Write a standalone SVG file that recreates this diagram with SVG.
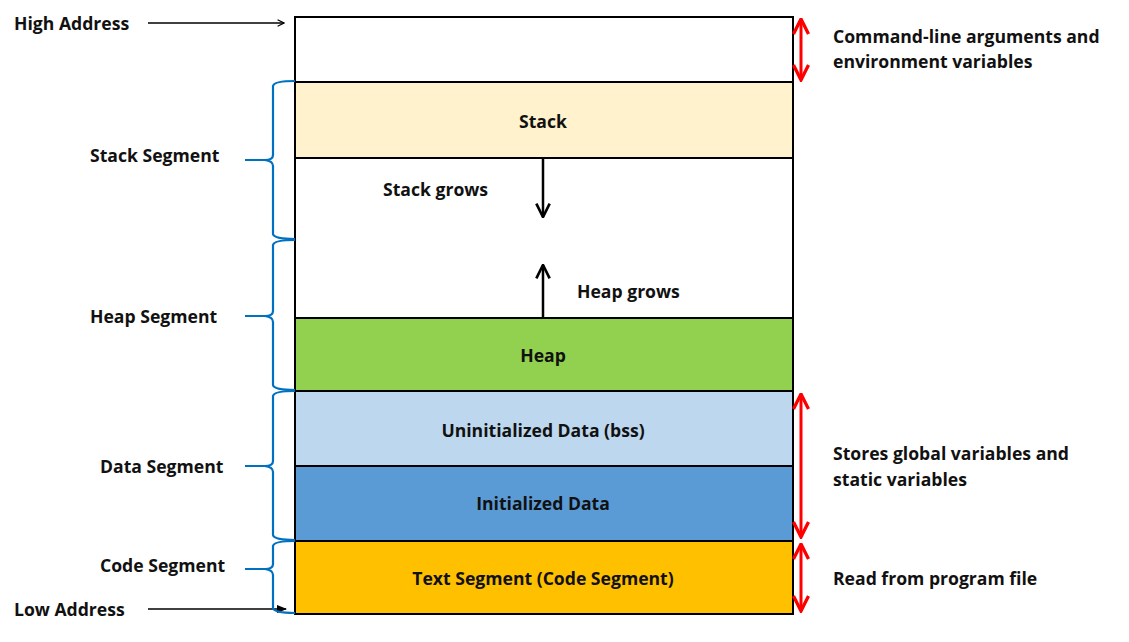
<svg xmlns="http://www.w3.org/2000/svg" width="1129" height="642" viewBox="0 0 1129 642">
<defs>
<style>
text{font-family:"Open Sans","Noto Sans","Liberation Sans",sans-serif;font-weight:bold;font-size:17.6px;fill:#111}
.c{text-anchor:middle}
.box{stroke:#000;stroke-width:2}
.brace{fill:none;stroke:#0070C0;stroke-width:2.2}
.red{stroke:#FF0000;stroke-width:3;fill:none}
.blk{stroke:#000;stroke-width:2.5;fill:none}
.thin{stroke:#000;stroke-width:1.5;fill:none}
</style>
<marker id="ah" viewBox="0 0 10 10" refX="9" refY="5" markerWidth="8" markerHeight="8" markerUnits="userSpaceOnUse" orient="auto">
<path d="M1,1 L9,5 L1,9" fill="none" stroke="#000" stroke-width="1.5"/>
</marker>
<marker id="ahf" viewBox="0 0 10 10" refX="9" refY="5" markerWidth="10" markerHeight="10" markerUnits="userSpaceOnUse" orient="auto">
<path d="M0,1 L10,5 L0,9 z" fill="#000"/>
</marker>
<marker id="rh" viewBox="0 0 12 12" refX="11" refY="6" markerWidth="18" markerHeight="18" markerUnits="userSpaceOnUse" orient="auto-start-reverse">
<path d="M1,1 L11,6 L1,11" fill="none" stroke="#FF0000" stroke-width="2.2"/>
</marker>
<marker id="bh" viewBox="0 0 12 12" refX="11" refY="6" markerWidth="16" markerHeight="16" markerUnits="userSpaceOnUse" orient="auto">
<path d="M1,1 L11,6 L1,11" fill="none" stroke="#000" stroke-width="2"/>
</marker>
</defs>
<rect width="1129" height="642" fill="#fff"/>

<g id="args"><rect class="box" x="295" y="17" width="498" height="65" fill="#fff"/></g>
<g id="stack"><rect class="box" x="295" y="82" width="498" height="76" fill="#FFF2CC"/><text class="c" x="543" y="128">Stack</text></g>
<g id="free"><rect class="box" x="295" y="158" width="498" height="160" fill="#fff"/>
<text x="383" y="196">Stack grows</text><text x="577" y="298">Heap grows</text></g>
<g id="heap"><rect class="box" x="295" y="318" width="498" height="73" fill="#92D050"/><text class="c" x="543" y="362">Heap</text></g>
<g id="bss"><rect class="box" x="295" y="391" width="498" height="75" fill="#BDD7EE"/><text class="c" x="543" y="437">Uninitialized Data (bss)</text></g>
<g id="init"><rect class="box" x="295" y="466" width="498" height="75" fill="#5B9BD5"/><text class="c" x="543" y="510">Initialized Data</text></g>
<g id="text"><rect class="box" x="295" y="541" width="498" height="73" fill="#FFC000"/><text class="c" x="543" y="585">Text Segment (Code Segment)</text></g>

<g id="labels">
<text x="14" y="30">High Address</text>
<text x="14" y="616">Low Address</text>
<text x="90" y="162">Stack Segment</text>
<text x="90" y="323">Heap Segment</text>
<text x="100" y="473">Data Segment</text>
<text x="100" y="572">Code Segment</text>
<text x="833" y="43">Command-line arguments and</text>
<text x="833" y="68">environment variables</text>
<text x="833" y="460">Stores global variables and</text>
<text x="833" y="486">static variables</text>
<text x="833" y="585">Read from program file</text>
</g>

<g id="connectors">
<path class="thin" d="M148,23 L284,23" marker-end="url(#ah)"/>
<path class="thin" d="M148,609 L286,609" marker-end="url(#ahf)"/>
<path class="blk" d="M543,158 L543,217" marker-end="url(#bh)"/>
<path class="blk" d="M543,318 L543,265" marker-end="url(#bh)"/>
<path class="red" d="M801,19 L801,80" marker-start="url(#rh)" marker-end="url(#rh)"/>
<path class="red" d="M801,394 L801,537" marker-start="url(#rh)" marker-end="url(#rh)"/>
<path class="red" d="M801,544 L801,611" marker-start="url(#rh)" marker-end="url(#rh)"/>
<path class="brace" d="M295,81 Q274,81 273,86 L273,155 Q273,160 265,160 L245,160 M265,160 Q273,161 273,166 L273,234 Q274,239 295,239"/>
<path class="brace" d="M295,240 Q274,240 273,245 L273,311 Q273,316 265,316 L245,316 M265,316 Q273,317 273,322 L273,385 Q274,390 295,390"/>
<path class="brace" d="M295,391 Q274,391 273,396 L273,461 Q273,466 265,466 L245,466 M265,466 Q273,467 273,472 L273,535 Q274,540 295,540"/>
<path class="brace" d="M295,541 Q274,541 273,546 L273,564 Q273,569 265,569 L245,569 M265,569 Q273,570 273,575 L273,608 Q274,613 295,613"/>
</g>
</svg>
